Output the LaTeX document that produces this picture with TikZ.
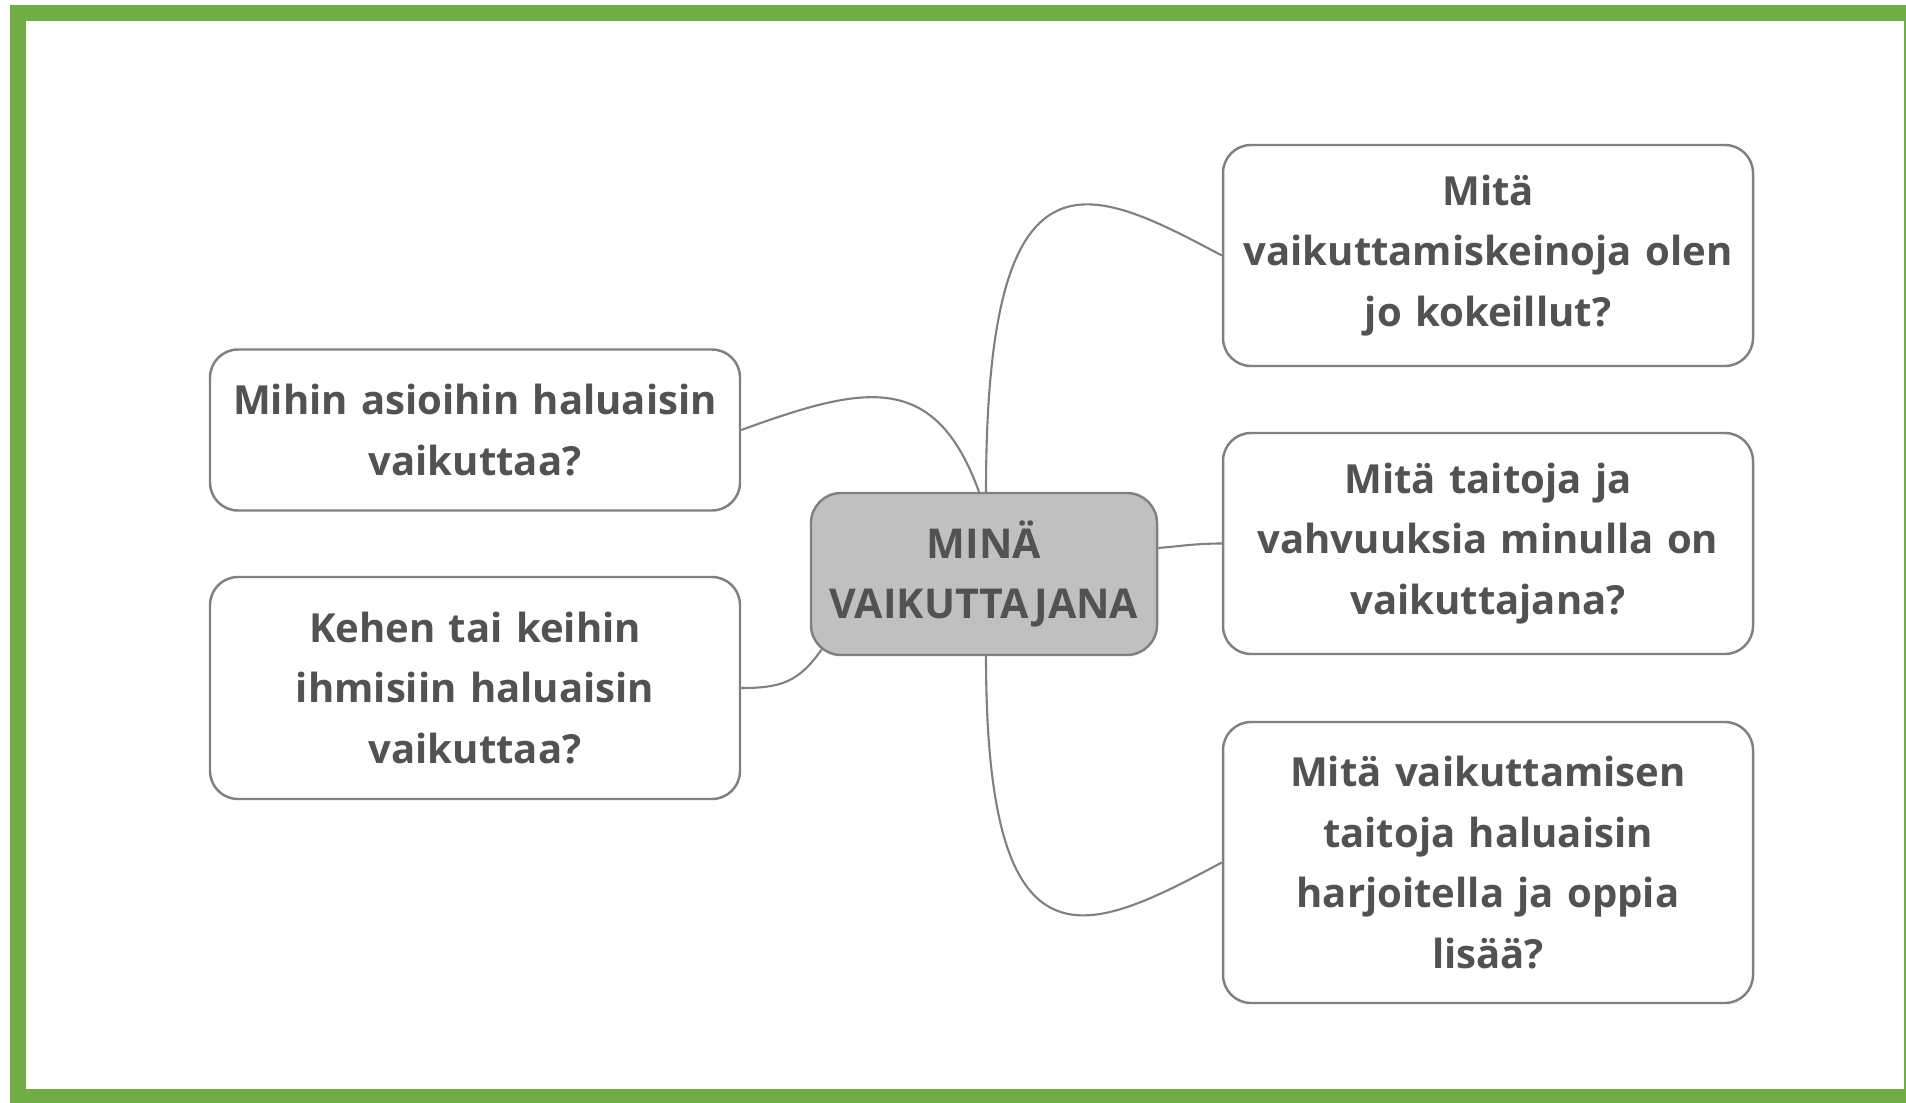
\documentclass[tikz,border=0pt]{standalone}
\usepackage{fontspec}
\setmainfont{Open Sans}
\usepackage{tikz}
\usetikzlibrary{positioning,calc}
\definecolor{framegreen}{RGB}{112,173,71}
\definecolor{boxline}{RGB}{128,128,128}
\definecolor{textgray}{RGB}{82,82,82}
\definecolor{midfill}{RGB}{192,192,192}
\tikzset{
  qbox/.style={draw=boxline, line width=0.7pt, fill=white, rounded corners=0.28cm,
    minimum width=5.3cm, text width=5.2cm, align=center, inner sep=0pt,
    font=\fontsize{11.4}{17.3}\selectfont\bfseries, text=textgray},
  midbox/.style={qbox, fill=midfill, minimum width=3.46cm, text width=3.3cm,
    minimum height=1.62cm, rounded corners=0.3cm,
    font=\fontsize{11.7}{17.3}\selectfont\bfseries},
  link/.style={draw=boxline, line width=0.6pt}
}

\begin{document}
\begin{tikzpicture}
    \useasboundingbox (0,0) rectangle (19.06,11.02);
    \draw[framegreen, line width=0.16cm] (0.175,10.89) rectangle (19.12,0.05);

    \node[midbox] (mid) at (9.84,5.28) {MINÄ\\VAIKUTTAJANA};

    \node[qbox, minimum height=1.61cm] (lt) at (4.75,6.72) {Mihin asioihin haluaisin\\vaikuttaa?};
    \node[qbox, minimum height=2.22cm] (lb) at (4.75,4.14) {Kehen tai keihin\\ihmisiin haluaisin\\vaikuttaa?};
    \node[qbox, minimum height=2.21cm] (rt) at (14.88,8.465) {Mitä\\vaikuttamiskeinoja olen\\jo kokeillut?};
    \node[qbox, minimum height=2.21cm] (rm) at (14.88,5.585) {Mitä taitoja ja\\vahvuuksia minulla on\\vaikuttajana?};
    \node[qbox, minimum height=2.81cm] (rb) at (14.88,2.395) {Mitä vaikuttamisen\\taitoja haluaisin\\harjoitella ja oppia\\lisää?};

    \draw[link] ([xshift=0.02cm]mid.north) to[out=90,in=152,out distance=3.6cm,in distance=1.5cm] (rt.west);
    \draw[link] ([xshift=-0.05cm]mid.north) to[out=110,in=20,out distance=1.3cm,in distance=1.3cm] (lt.east);
    \draw[link] ([yshift=0.26cm]mid.east) to[out=5,in=180] (rm.west);
    \draw[link] ([xshift=0.02cm]mid.south) to[out=-90,in=-152,out distance=3.3cm,in distance=1.5cm] (rb.west);
    \draw[link] ([shift={(0.12,0.07)}]mid.south west) to[out=235,in=0,out distance=0.4cm,in distance=0.4cm] (lb.east);
\end{tikzpicture}
\end{document}
